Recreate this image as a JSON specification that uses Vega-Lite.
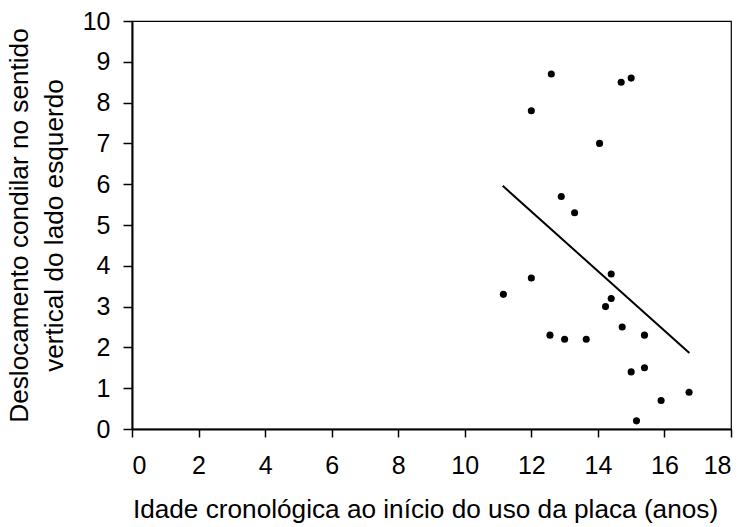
{
  "$schema": "https://vega.github.io/schema/vega-lite/v6.json",
  "autosize": {"type": "none"},
  "width": 599,
  "height": 408,
  "padding": {"left": 132, "top": 21, "right": 19, "bottom": 98},
  "background": "white",
  "config": {
    "font": "Liberation Sans",
    "view": {"stroke": "black", "strokeWidth": 1.2},
    "axis": {
      "grid": false,
      "domainColor": "black",
      "domainWidth": 2,
      "tickColor": "black",
      "tickWidth": 1.5,
      "labelColor": "black",
      "titleColor": "black",
      "labelFont": "Liberation Sans",
      "titleFont": "Liberation Sans",
      "labelFontSize": 25,
      "titleFontSize": 26.2,
      "titleFontWeight": "normal"
    }
  },
  "datasets": {
    "pontos": [
      {"idade": 12.6, "desloc": 8.7},
      {"idade": 14.7, "desloc": 8.5},
      {"idade": 15.0, "desloc": 8.6},
      {"idade": 12.0, "desloc": 7.8},
      {"idade": 14.05, "desloc": 7.0},
      {"idade": 12.9, "desloc": 5.7},
      {"idade": 13.3, "desloc": 5.3},
      {"idade": 14.4, "desloc": 3.8},
      {"idade": 12.0, "desloc": 3.7},
      {"idade": 11.16, "desloc": 3.3},
      {"idade": 14.4, "desloc": 3.2},
      {"idade": 14.23, "desloc": 3.0},
      {"idade": 14.73, "desloc": 2.5},
      {"idade": 12.56, "desloc": 2.3},
      {"idade": 15.4, "desloc": 2.3},
      {"idade": 13.0, "desloc": 2.2},
      {"idade": 13.65, "desloc": 2.2},
      {"idade": 15.4, "desloc": 1.5},
      {"idade": 15.0, "desloc": 1.4},
      {"idade": 16.74, "desloc": 0.9},
      {"idade": 15.9, "desloc": 0.7},
      {"idade": 15.16, "desloc": 0.2}
    ],
    "reta": [
      {"idade": 11.14, "desloc": 5.96},
      {"idade": 16.75, "desloc": 1.86}
    ]
  },
  "encoding": {
    "x": {
      "field": "idade",
      "type": "quantitative",
      "scale": {"domain": [0, 18], "nice": false, "zero": false},
      "axis": {
        "title": "Idade cronológica ao início do uso da placa (anos)",
        "values": [0, 2, 4, 6, 8, 10, 12, 14, 16, 18],
        "tickSize": 8,
        "labelPadding": 16,
        "titlePadding": 18,
        "titleX": 293
      }
    },
    "y": {
      "field": "desloc",
      "type": "quantitative",
      "scale": {"domain": [0, 10], "nice": false},
      "axis": {
        "title": ["Deslocamento condilar no sentido", "vertical do lado esquerdo"],
        "values": [0, 1, 2, 3, 4, 5, 6, 7, 8, 9, 10],
        "tickSize": 9,
        "labelPadding": 13,
        "titlePadding": 14,
        "titleLineHeight": 35
      }
    }
  },
  "layer": [
    {
      "data": {"name": "reta"},
      "mark": {"type": "line", "color": "black", "strokeWidth": 2}
    },
    {
      "data": {"name": "pontos"},
      "mark": {"type": "circle", "color": "black", "opacity": 1, "size": 50}
    }
  ]
}
